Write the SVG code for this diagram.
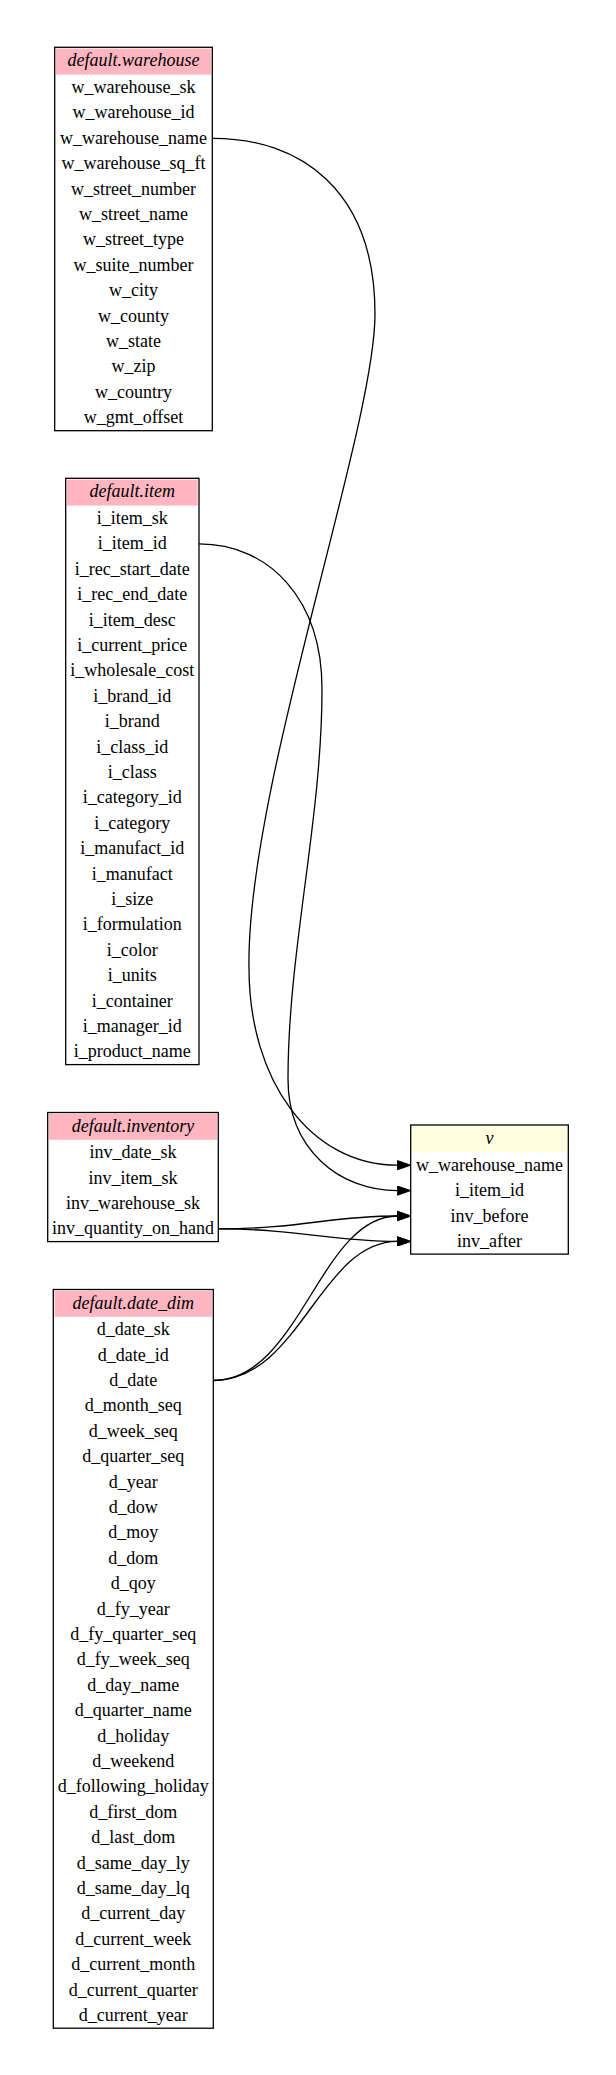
<svg xmlns="http://www.w3.org/2000/svg" width="616" height="2075" viewBox="0 0 616 2075">
<defs>
<style>
.box{fill:none;stroke:#000;stroke-width:1.3}
.bg{fill:#fff}
.hd{fill:#ffb6c1}
.hdv{fill:#ffffe0}
text{font-family:"Liberation Serif","Times New Roman",serif;font-size:18px;fill:#000;text-anchor:middle}
.ti{font-style:italic}
.edge{fill:none;stroke:#000;stroke-width:1.3}
</style>
<marker id="arr" markerUnits="userSpaceOnUse" viewBox="0 -5 14 10" markerWidth="14" markerHeight="10" refX="0" refY="0" orient="auto">
<path d="M0,-4.6 L13.3,0 L0,4.6 z" fill="#000" stroke="#000" stroke-width="1"/>
</marker>
</defs>
<rect x="0" y="0" width="616" height="2075" fill="#fff"/>

<g id="warehouse">
<rect class="bg" x="54.7" y="47.3" width="157.6" height="383.4"/>
<rect class="hd" x="56" y="48.6" width="155" height="26"/>
<rect class="box" x="54.7" y="47.3" width="157.6" height="383.4"/>
<text class="ti" x="133.5" y="66.3">default.warehouse</text>
<text x="133.5" y="93">w_warehouse_sk</text>
<text x="133.5" y="118.4">w_warehouse_id</text>
<text x="133.5" y="143.8">w_warehouse_name</text>
<text x="133.5" y="169.2">w_warehouse_sq_ft</text>
<text x="133.5" y="194.6">w_street_number</text>
<text x="133.5" y="220">w_street_name</text>
<text x="133.5" y="245.4">w_street_type</text>
<text x="133.5" y="270.8">w_suite_number</text>
<text x="133.5" y="296.2">w_city</text>
<text x="133.5" y="321.6">w_county</text>
<text x="133.5" y="347">w_state</text>
<text x="133.5" y="372.4">w_zip</text>
<text x="133.5" y="397.8">w_country</text>
<text x="133.5" y="423.2">w_gmt_offset</text>
</g>

<g id="item">
<rect class="bg" x="65.7" y="478.3" width="133.3" height="586.3"/>
<rect class="hd" x="67" y="479.6" width="130.7" height="26"/>
<rect class="box" x="65.7" y="478.3" width="133.3" height="586.3"/>
<text class="ti" x="132.35" y="497.3">default.item</text>
<text x="132.35" y="524">i_item_sk</text>
<text x="132.35" y="549.4">i_item_id</text>
<text x="132.35" y="574.8">i_rec_start_date</text>
<text x="132.35" y="600.2">i_rec_end_date</text>
<text x="132.35" y="625.6">i_item_desc</text>
<text x="132.35" y="651">i_current_price</text>
<text x="132.35" y="676.4">i_wholesale_cost</text>
<text x="132.35" y="701.8">i_brand_id</text>
<text x="132.35" y="727.2">i_brand</text>
<text x="132.35" y="752.6">i_class_id</text>
<text x="132.35" y="778">i_class</text>
<text x="132.35" y="803.4">i_category_id</text>
<text x="132.35" y="828.8">i_category</text>
<text x="132.35" y="854.2">i_manufact_id</text>
<text x="132.35" y="879.6">i_manufact</text>
<text x="132.35" y="905">i_size</text>
<text x="132.35" y="930.4">i_formulation</text>
<text x="132.35" y="955.8">i_color</text>
<text x="132.35" y="981.2">i_units</text>
<text x="132.35" y="1006.6">i_container</text>
<text x="132.35" y="1032">i_manager_id</text>
<text x="132.35" y="1057.4">i_product_name</text>
</g>

<g id="inventory">
<rect class="bg" x="47.7" y="1112.5" width="170.6" height="129.1"/>
<rect class="hd" x="49" y="1113.8" width="168" height="26"/>
<rect class="box" x="47.7" y="1112.5" width="170.6" height="129.1"/>
<text class="ti" x="133" y="1131.5">default.inventory</text>
<text x="133" y="1158.2">inv_date_sk</text>
<text x="133" y="1183.6">inv_item_sk</text>
<text x="133" y="1209">inv_warehouse_sk</text>
<text x="133" y="1234.4">inv_quantity_on_hand</text>
</g>

<g id="date_dim">
<rect class="bg" x="53.3" y="1289.5" width="160" height="738.7"/>
<rect class="hd" x="54.6" y="1290.8" width="157.4" height="26"/>
<rect class="box" x="53.3" y="1289.5" width="160" height="738.7"/>
<text class="ti" x="133.3" y="1308.5">default.date_dim</text>
<text x="133.3" y="1335.2">d_date_sk</text>
<text x="133.3" y="1360.6">d_date_id</text>
<text x="133.3" y="1386">d_date</text>
<text x="133.3" y="1411.4">d_month_seq</text>
<text x="133.3" y="1436.8">d_week_seq</text>
<text x="133.3" y="1462.2">d_quarter_seq</text>
<text x="133.3" y="1487.6">d_year</text>
<text x="133.3" y="1513">d_dow</text>
<text x="133.3" y="1538.4">d_moy</text>
<text x="133.3" y="1563.8">d_dom</text>
<text x="133.3" y="1589.2">d_qoy</text>
<text x="133.3" y="1614.6">d_fy_year</text>
<text x="133.3" y="1640">d_fy_quarter_seq</text>
<text x="133.3" y="1665.4">d_fy_week_seq</text>
<text x="133.3" y="1690.8">d_day_name</text>
<text x="133.3" y="1716.2">d_quarter_name</text>
<text x="133.3" y="1741.6">d_holiday</text>
<text x="133.3" y="1767">d_weekend</text>
<text x="133.3" y="1792.4">d_following_holiday</text>
<text x="133.3" y="1817.8">d_first_dom</text>
<text x="133.3" y="1843.2">d_last_dom</text>
<text x="133.3" y="1868.6">d_same_day_ly</text>
<text x="133.3" y="1894">d_same_day_lq</text>
<text x="133.3" y="1919.4">d_current_day</text>
<text x="133.3" y="1944.8">d_current_week</text>
<text x="133.3" y="1970.2">d_current_month</text>
<text x="133.3" y="1995.6">d_current_quarter</text>
<text x="133.3" y="2021">d_current_year</text>
</g>

<g id="v">
<rect class="bg" x="410.7" y="1125" width="157.6" height="129.1"/>
<rect class="hdv" x="412" y="1126.3" width="155" height="26"/>
<rect class="box" x="410.7" y="1125" width="157.6" height="129.1"/>
<text class="ti" x="489.5" y="1144">v</text>
<text x="489.5" y="1170.7">w_warehouse_name</text>
<text x="489.5" y="1196.1">i_item_id</text>
<text x="489.5" y="1221.5">inv_before</text>
<text x="489.5" y="1246.9">inv_after</text>
</g>

<g id="connectors">
<path class="edge" marker-end="url(#arr)" d="M212.3,138.3 C300,138 375,190 375,314 C375,430 246,790 249,968 C249,1080 310,1165.2 397.4,1165.2"/>
<path class="edge" marker-end="url(#arr)" d="M199,543.9 C270,543.9 322,600 322,689 C322,820 288,950 288,1079 C288,1150 340,1190.6 397.4,1190.6"/>
<path class="edge" marker-end="url(#arr)" d="M218.3,1228.9 C300,1228.9 330,1216 397.4,1216"/>
<path class="edge" marker-end="url(#arr)" d="M218.3,1228.9 C300,1228.9 330,1241.4 397.4,1241.4"/>
<path class="edge" marker-end="url(#arr)" d="M213.3,1380.5 C300,1380.5 320,1216 397.4,1216"/>
<path class="edge" marker-end="url(#arr)" d="M213.3,1380.5 C300,1380.5 320,1241.4 397.4,1241.4"/>
</g>
</svg>
